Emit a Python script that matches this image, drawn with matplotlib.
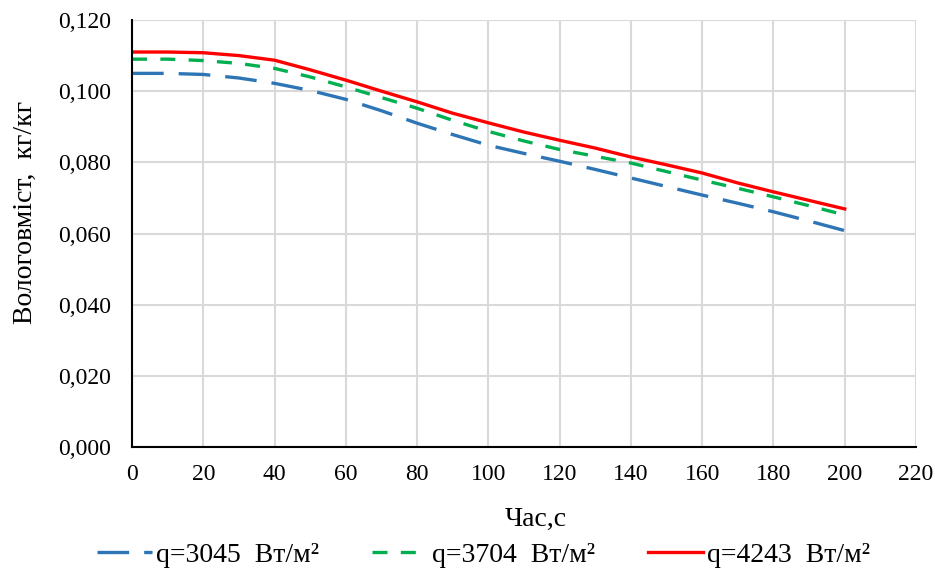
import matplotlib.pyplot as plt
from matplotlib.ticker import FuncFormatter

plt.rcParams['font.family'] = ['Liberation Serif', 'DejaVu Serif']

# time, s
t = [0, 10, 20, 30, 40, 50, 60, 70, 80, 90, 100,
     110, 120, 130, 140, 150, 160, 170, 180, 190, 200]

# moisture content, kg/kg
q3045 = [0.1050, 0.1050, 0.1047, 0.1037, 0.1022, 0.1002, 0.0977, 0.0945, 0.0910, 0.0878, 0.0848,
         0.0825, 0.0803, 0.0780, 0.0756, 0.0732, 0.0708, 0.0685, 0.0661, 0.0635, 0.0608]
q3704 = [0.1090, 0.1090, 0.1086, 0.1078, 0.1064, 0.1040, 0.1012, 0.0982, 0.0952, 0.0918, 0.0887,
         0.0860, 0.0836, 0.0817, 0.0798, 0.0774, 0.0750, 0.0727, 0.0703, 0.0678, 0.0652]
q4243 = [0.1110, 0.1110, 0.1108, 0.1100, 0.1087, 0.1060, 0.1031, 0.1000, 0.0970, 0.0938, 0.0911,
         0.0885, 0.0862, 0.0840, 0.0815, 0.0793, 0.0770, 0.0742, 0.0717, 0.0693, 0.0669]

labels = ['q=3045  Вт/м²', 'q=3704  Вт/м²', 'q=4243  Вт/м²']

fig = plt.figure(figsize=(9.35, 5.76), dpi=100)
ax = fig.add_axes([132/935, 1 - 447/576, (916 - 132)/935, (447 - 20)/576])

ax.plot(t, q3045, color='#2e75b6', lw=2.4, dashes=(9.5, 4.5), label=labels[0])
ax.plot(t, q3704, color='#00b050', lw=2.4, dashes=(4.5, 4), label=labels[1])
ax.plot(t, q4243, color='#ff0000', lw=2.4, label=labels[2])

ax.set_xlim(0, 220)
ax.set_ylim(0, 0.12)
ax.set_xticks(range(0, 221, 20))
ax.set_yticks([0, 0.02, 0.04, 0.06, 0.08, 0.10, 0.12])
ax.yaxis.set_major_formatter(FuncFormatter(lambda v, p: f'{v:.3f}'.replace('.', ',')))
ax.grid(True, color='#d9d9d9', lw=1.5)
ax.set_axisbelow(True)
ax.tick_params(length=0, labelsize=17)
ax.tick_params(axis='y', pad=15)
ax.tick_params(axis='x', pad=12)
for s in ['top', 'right']:
    ax.spines[s].set_visible(False)
ax.spines['left'].set_color('black')
ax.spines['bottom'].set_color('black')
ax.spines['left'].set_linewidth(1.5)
ax.spines['bottom'].set_linewidth(1.5)

ax.set_xlabel('Час,с', fontsize=20, va='center')
ax.xaxis.set_label_coords(0.515, -0.169)
ax.set_ylabel('Вологовміст,  кг/кг', fontsize=20, va='center')
ax.yaxis.set_label_coords(-0.1365, 0.55)

fig.legend(loc='center', bbox_to_anchor=(0.517, 0.036), ncol=3, frameon=False,
           fontsize=20, handlelength=2.0, handletextpad=0.15, columnspacing=1.9)

fig.savefig('out.png', dpi=100)
